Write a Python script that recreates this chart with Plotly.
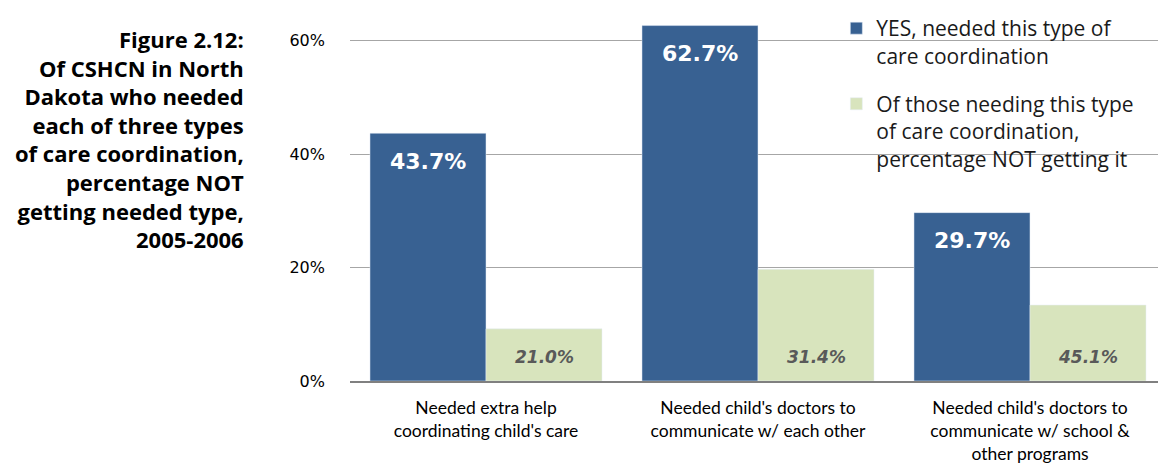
import plotly.graph_objects as go

categories = ["Needed extra help<br>coordinating child's care",
              "Needed child's doctors to<br>communicate w/ each other",
              "Needed child's doctors to<br>communicate w/ school &<br>other programs"]
needed = [43.7, 62.7, 29.7]
not_getting_bar = [9.2, 19.7, 13.4]
not_getting_label = ["21.0%", "31.4%", "45.1%"]

title = ("Figure 2.12:<br>Of CSHCN in North<br>Dakota who needed<br>each of three types<br>"
         "of care coordination,<br>percentage NOT<br>getting needed type,<br>2005-2006")

fig = go.Figure()
fig.add_trace(go.Bar(
    x=categories, y=needed, name="YES, needed this type of<br>care coordination",
    marker_color="#386192", legendgroup="a",
))
fig.add_trace(go.Bar(
    x=categories, y=not_getting_bar, legendgroup="b",
    name="Of those needing this type<br>of care coordination,<br>percentage NOT getting it",
    marker_color="#d8e4bd",
))

# data labels: blue near the top of the bar, green near the base
for cat, v in zip(categories, needed):
    fig.add_annotation(x=cat, y=v, xshift=-58, yshift=-28, yanchor="middle",
                       text=f"{v:.1f}%", showarrow=False,
                       font=dict(family="DejaVu Sans", size=22, color="white", weight="bold"))
for cat, lab in zip(categories, not_getting_label):
    fig.add_annotation(x=cat, y=0, xshift=58, yshift=24, yanchor="middle",
                       text=lab, showarrow=False,
                       font=dict(family="DejaVu Sans", size=17, color="#595959",
                                 weight="bold", style="italic"))

fig.update_layout(
    width=1166, height=466, barmode="group", bargap=0.147, bargroupgap=0,
    margin=dict(l=342, r=8, t=0, b=93),
    plot_bgcolor="white", paper_bgcolor="white",
    font=dict(family="DejaVu Sans", color="black"),
    legend=dict(x=0.596, y=1.0, xanchor="left", yanchor="top", valign="top",
                font=dict(size=21, family="Open Sans", color="#1a1a1a"),
                tracegroupgap=18, bgcolor="rgba(0,0,0,0)"),
)
fig.update_yaxes(range=[0, 65.8], tickvals=[0, 20, 40, 60], ticktext=["0%", "20%", "40%", "60%"],
                 showgrid=True, gridcolor="#a6a6a6", gridwidth=1, zeroline=False,
                 tickfont=dict(size=16, family="DejaVu Sans"), ticks="", ticklabelstandoff=24)
fig.update_xaxes(showline=True, linecolor="#808080", linewidth=2,
                 tickfont=dict(size=17.5, family="Lato"), ticks="", ticklabelstandoff=10)
fig.add_annotation(text=title, xref="paper", yref="paper", x=-0.127, y=0.963,
                   xanchor="right", yanchor="top", align="right", showarrow=False,
                   font=dict(size=22, family="Open Sans", color="black", weight="bold"))

fig.write_html("out.html")
